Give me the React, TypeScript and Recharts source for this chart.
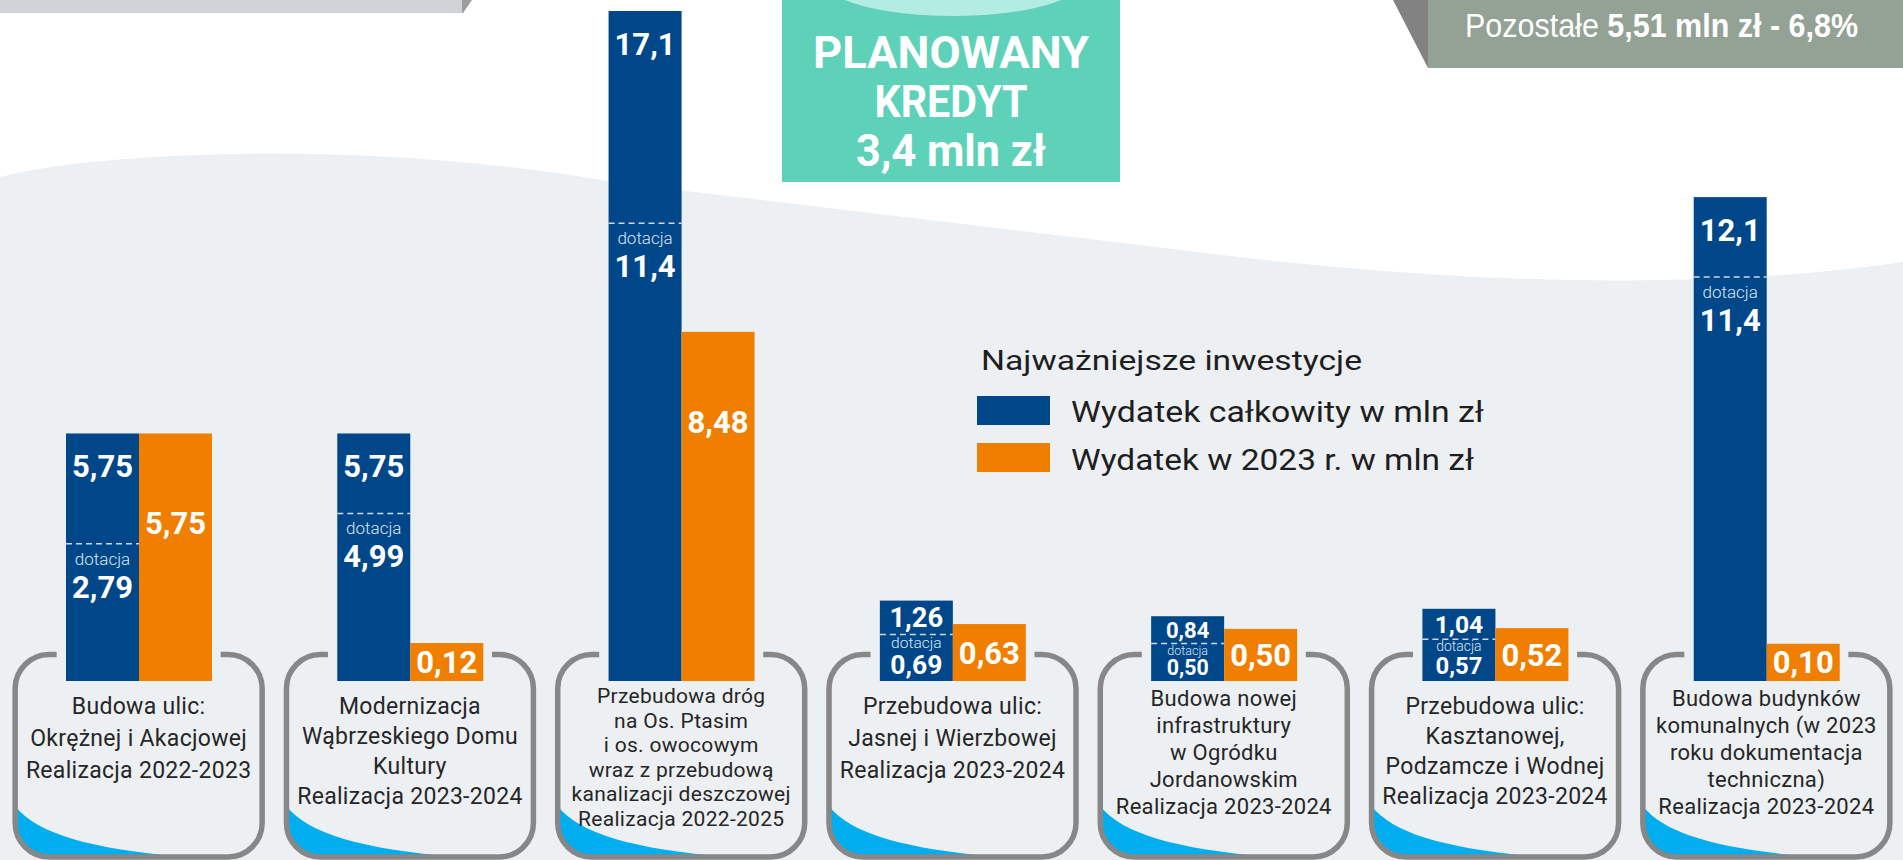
import React from 'react';
import { BarChart, Bar, XAxis, YAxis, Legend } from 'recharts';

// categories (box labels), one line per "\n"
const categories = [
  'Budowa ulic:\nOkrężnej i Akacjowej\nRealizacja 2022-2023',
  'Modernizacja\nWąbrzeskiego Domu\nKultury\nRealizacja 2023-2024',
  'Przebudowa dróg\nna Os. Ptasim\ni os. owocowym\nwraz z przebudową\nkanalizacji deszczowej\nRealizacja 2022-2025',
  'Przebudowa ulic:\nJasnej i Wierzbowej\nRealizacja 2023-2024',
  'Budowa nowej\ninfrastruktury\nw Ogródku\nJordanowskim\nRealizacja 2023-2024',
  'Przebudowa ulic:\nKasztanowej,\nPodzamcze i Wodnej\nRealizacja 2023-2024',
  'Budowa budynków\nkomunalnych (w 2023\nroku dokumentacja\ntechniczna)\nRealizacja 2023-2024',
];
const totalCost = [5.75, 5.75, 17.1, 1.26, 0.84, 1.04, 12.1];
const cost2023 = [5.75, 0.12, 8.48, 0.63, 0.5, 0.52, 0.1];
const grantValues = [2.79, 4.99, 11.4, 0.69, 0.5, 0.57, 11.4];

const seriesNames = ['Wydatek całkowity w mln zł', 'Wydatek w 2023 r. w mln zł'];
const legendTitle = 'Najważniejsze inwestycje';
const creditLines = ['PLANOWANY', 'KREDYT', '3,4 mln zł'];
const restLabel = 'Pozostałe ';
const restValue = '5,51 mln zł - 6,8%';

const data = categories.map((name, i) => ({
  name,
  total: totalCost[i],
  y2023: cost2023[i],
  grant: grantValues[i],
}));

const W = 1903;
const H = 860;
const MARGIN = { top: 11, right: 1, bottom: 0, left: 3 };
const AXIS_H = 179;
const PLOT_BOTTOM = H - MARGIN.bottom - AXIS_H;
const AXIS_MIN = -0.9; // bars start a little below zero so small values stay readable

const BLUE = '#00478a';
const ORANGE = '#f07f00';
const FONT = 'Roboto, "Open Sans", sans-serif';

const fmt = (v: number) => (v >= 10 ? v.toFixed(1) : v.toFixed(2)).replace('.', ',');

function TotalBar(props: any) {
  const { x, y, width, payload } = props;
  const h = PLOT_BOTTOM - y;
  const cx = x + width / 2;
  const total = payload.total;
  const g = payload.grant;
  const gy = PLOT_BOTTOM - ((g - AXIS_MIN) / (total - AXIS_MIN)) * h;
  const txt = { fill: '#fff', fontFamily: FONT, textAnchor: 'middle' as const };
  let parts;
  if (h >= 150) {
    const dashY = Math.max(gy, y + 80);
    parts = (
      <>
        <text x={cx} y={y + 44} fontSize={31} fontWeight={700} {...txt}>{fmt(total)}</text>
        <line x1={x} x2={x + width} y1={dashY} y2={dashY} stroke="#cdd8e8" strokeWidth={1.5} strokeDasharray="6 4" />
        <text x={cx} y={dashY + 21} fontSize={17} fontWeight={300} {...txt} fill="#dde5f0">dotacja</text>
        <text x={cx} y={dashY + 54} fontSize={31} fontWeight={700} {...txt}>{fmt(g)}</text>
      </>
    );
  } else {
    const s = Math.min(1, h / 88);
    const dashY = y + 37 * s;
    parts = (
      <>
        <text x={cx} y={y + 29 * s} fontSize={30 * s} fontWeight={700} {...txt}>{fmt(total)}</text>
        <line x1={x} x2={x + width} y1={dashY} y2={dashY} stroke="#cdd8e8" strokeWidth={1.5} strokeDasharray="6 4" />
        <text x={cx} y={y + 52 * s} fontSize={17 * s} fontWeight={300} {...txt} fill="#dde5f0">dotacja</text>
        <text x={cx} y={y + 80 * s} fontSize={29 * s} fontWeight={700} {...txt}>{fmt(g)}</text>
      </>
    );
  }
  return (
    <g>
      <rect x={x} y={y} width={width} height={h} fill={BLUE} />
      {parts}
    </g>
  );
}

function YearBar(props: any) {
  const { x, y, width, payload } = props;
  const h = PLOT_BOTTOM - y;
  const cx = x + width / 2;
  return (
    <g>
      <rect x={x} y={y} width={width} height={h} fill={ORANGE} />
      <text x={cx} y={y + Math.min(h / 2, 90) + 11} fontSize={31} fontWeight={700} fill="#fff"
        fontFamily={FONT} textAnchor="middle">{fmt(payload.y2023)}</text>
    </g>
  );
}

function BoxTick(props: any) {
  const { x, payload, index } = props;
  const lines = String(payload.value).split('\n');
  const n = lines.length;
  const L = x - 123.5;
  const R = x + 123.5;
  const T = 654.5;
  const B = 857;
  const r = 34;
  const gap = 82;
  const lh = n <= 3 ? 32 : n === 4 ? 30 : n === 5 ? 27 : 24.5;
  const first = n <= 4 ? 714 : n === 5 ? 706 : 703;
  const fs = n <= 4 ? 23 : n === 5 ? 22 : 21;
  const id = `boxclip-${index}`;
  return (
    <g>
      <defs>
        <clipPath id={id}>
          <rect x={L} y={T} width={R - L} height={B - T} rx={r} />
        </clipPath>
      </defs>
      <path clipPath={`url(#${id})`} fill="#00aeef"
        d={`M${L},806 C${L + 25},838 ${L + 90},852 ${L + 205},860 L${L},860 Z`} />
      <path fill="none" stroke="#878787" strokeWidth={5.5}
        d={`M${x - gap},${T} H${L + r} A${r},${r} 0 0 0 ${L},${T + r} V${B - r} A${r},${r} 0 0 0 ${L + r},${B} H${R - r} A${r},${r} 0 0 0 ${R},${B - r} V${T + r} A${r},${r} 0 0 0 ${R - r},${T} H${x + gap}`} />
      {lines.map((ln, i) => (
        <text key={i} x={x} y={first + i * lh} fontSize={fs} fill="#262626" fontFamily={FONT}
          textAnchor="middle" letterSpacing={0.3}>{ln}</text>
      ))}
    </g>
  );
}

const legendWidths = [413, 403];

function LegendBox(props: any) {
  const { payload } = props;
  return (
    <svg width={560} height={150} style={{ display: 'block' }}>
      <text x={6} y={30} fontSize={28} fill="#1e1e1e" fontFamily={FONT} textLength={381}
        lengthAdjust="spacingAndGlyphs">{legendTitle}</text>
      {(payload || []).map((p: any, i: number) => (
        <g key={i}>
          <rect x={2} y={56 + i * 47} width={73} height={29} fill={p.color} />
          <text x={96} y={82 + i * 48} fontSize={30} fill="#1e1e1e" fontFamily={FONT}
            textLength={legendWidths[i]} lengthAdjust="spacingAndGlyphs">{p.value}</text>
        </g>
      ))}
    </svg>
  );
}

function Decor() {
  return (
    <svg width={W} height={H} style={{ position: 'absolute', left: 0, top: 0 }}>
      <rect x={0} y={0} width={W} height={H} fill="#fff" />
      <path fill="#edf0f3"
        d="M0,177 C100,150 380,140 612,182 L1265,260 Q1640,300 1903,262 L1903,860 L0,860 Z" />
      <rect x={0} y={0} width={462} height={13} fill="#d2d3d6" />
      <polygon points="462,0 472,0 463,13 462,13" fill="#9d9d9d" />
      <rect x={782} y={0} width={338} height={182} fill="#5ed1b9" />
      <ellipse cx={953} cy={-20} rx={130} ry={36} fill="#b3ece1" />
      {creditLines.map((t, i) => (
        <text key={t} x={951} y={68 + i * 49} fontSize={44} fontWeight={700} fill="#fff"
          fontFamily={FONT} textAnchor="middle" textLength={[276, 153, 190][i]}
          lengthAdjust="spacingAndGlyphs">{t}</text>
      ))}
      <polygon points="1393,0 1428,0 1428,68" fill="#828282" />
      <rect x={1428} y={0} width={475} height={68} fill="#94a295" />
      <text x={1465} y={37} fontSize={33} fill="#fff" fontFamily='"Liberation Sans Narrow", "Liberation Sans", Arial, sans-serif'
        textLength={393} lengthAdjust="spacingAndGlyphs">
        {restLabel}<tspan fontWeight={700}>{restValue}</tspan>
      </text>
    </svg>
  );
}

export default function App() {
  const maxTotal = Math.max(...totalCost);
  return (
    <div style={{ position: 'absolute', left: 0, top: 0, width: W, height: H, overflow: 'hidden' }}>
      <Decor />
      <div style={{ position: 'absolute', left: 0, top: 0 }}>
        <BarChart width={W} height={H} data={data} margin={MARGIN} barGap={0} barSize={73}>
          <XAxis dataKey="name" height={AXIS_H} interval={0} axisLine={false} tickLine={false} tick={<BoxTick />} />
          <YAxis hide type="number" domain={[AXIS_MIN, maxTotal]} />
          <Legend layout="horizontal" verticalAlign="middle" align="center" content={<LegendBox />}
            wrapperStyle={{ left: 975, top: 340, width: 560, height: 150 }} />
          <Bar dataKey="total" name={seriesNames[0]} fill={BLUE} shape={<TotalBar />} isAnimationActive={false} />
          <Bar dataKey="y2023" name={seriesNames[1]} fill={ORANGE} shape={<YearBar />} isAnimationActive={false} />
        </BarChart>
      </div>
    </div>
  );
}
